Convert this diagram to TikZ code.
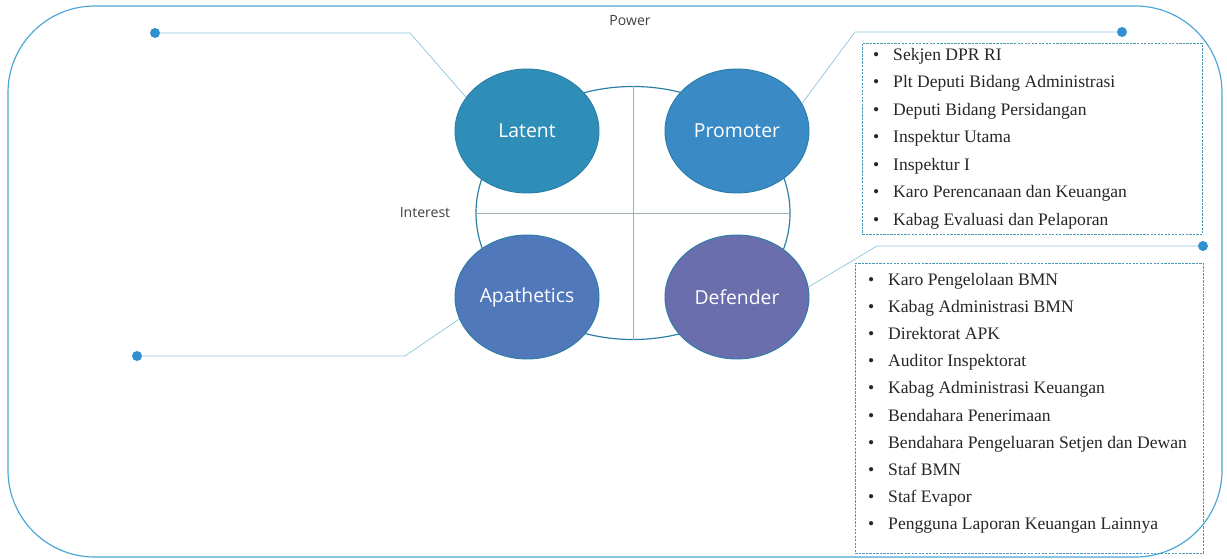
\documentclass[tikz,border=0pt]{standalone}
\usepackage{fontspec}
\setmainfont{Liberation Serif}
\newfontfamily\quadfont{Open Sans}
\usetikzlibrary{shapes.geometric}

\definecolor{framec}{HTML}{4BA6D6}
\definecolor{linkc}{HTML}{8CC6DE}
\definecolor{pinc}{HTML}{2F8FCF}
\definecolor{boxc}{HTML}{4A98B8}
\definecolor{ringc}{HTML}{2B7EA6}
\definecolor{axisc}{HTML}{A0AEB8}
\definecolor{latentc}{HTML}{2F8EB8}
\definecolor{promoterc}{HTML}{3A8BC5}
\definecolor{apatheticsc}{HTML}{5078BA}
\definecolor{defenderc}{HTML}{6A6EAC}

\begin{document}
\begin{tikzpicture} [x = 0.03cm, y = -0.03cm,
  quad/.style = {ellipse, draw = ringc, line width = 0.8pt, minimum width = 4.32cm, minimum height = 3.72cm, inner sep = 0pt, text = white, font = \quadfont\fontsize{16.5}{18}\selectfont},
  link/.style = {draw = linkc, line width = 0.6pt},
  pin/.style = {circle, fill = pinc, minimum size = 0.3cm, inner sep = 0pt},
  listbox/.style = {draw = boxc, dash pattern = on 2pt off 1pt, line width = 0.5pt, anchor = north west, inner sep = 0pt},
  entry/.style = {anchor = base west, inner sep = 0pt, font = \fontsize{15}{18}\selectfont, text = black!85},
  axislabel/.style = {font = \quadfont\fontsize{12}{14}\selectfont, text = black!75}]

\useasboundingbox (0, 0) rectangle (1227, 559);
\draw[framec, line width = 1pt, rounded corners = 2.6cm] (8, 6) rectangle (1222, 557);

% stakeholder field
\node[ellipse, draw = ringc, line width = 1pt, minimum width = 9.42cm, minimum height = 7.59cm] (field) at (633, 213) {};
\draw[axisc, line width = 0.5pt] (field.north) -- (field.south);
\draw[axisc, line width = 0.5pt] (field.west) -- (field.east);
\node[axislabel] (power) at (630, 21) {Power};
\node[axislabel] (interest) at (425, 213) {Interest};

\node[quad, fill = latentc] (latent) at (527, 131) {Latent};
\node[quad, fill = promoterc] (promoter) at (737, 131) {Promoter};
\node[quad, fill = apatheticsc] (apathetics) at (527, 297) {Apathetics};
\node[quad, fill = defenderc] (defender) at (737, 297) {Defender};

% pins
\node[pin] (latpin) at (155, 33) {};
\node[pin] (apapin) at (137, 356) {};
\node[pin] (propin) at (1122, 32) {};
\node[pin] (defpin) at (1203, 246) {};
\draw[link] (latpin) -- (410, 33) -- (latent.151);
\draw[link] (apapin) -- (405, 356) -- (apathetics.198);
\draw[link] (propin) -- (855, 32) -- (promoter.23);
\draw[link] (defpin) -- (877, 246) -- (defender.8);

% lists
\node[listbox, minimum width = 10.2cm, minimum height = 5.73cm] (prolist) at (862, 43) {};
\foreach \who [count = \i] in {Sekjen DPR RI, Plt Deputi Bidang Administrasi, Deputi Bidang Persidangan, Inspektur Utama, Inspektur I, Karo Perencanaan dan Keuangan, Kabag Evaluasi dan Pelaporan}
  \node[entry] (pro\i) at (873, 27.5*\i + 32.5) {\makebox[0.6cm][l]{\textbullet}\who};

\node[listbox, minimum width = 10.44cm, minimum height = 8.7cm] (deflist) at (855, 263) {};
\foreach \who [count = \i] in {Karo Pengelolaan BMN, Kabag Administrasi BMN, Direktorat APK, Auditor Inspektorat, Kabag Administrasi Keuangan, Bendahara Penerimaan, Bendahara Pengeluaran Setjen dan Dewan, Staf BMN, Staf Evapor, Pengguna Laporan Keuangan Lainnya}
  \node[entry] (def\i) at (868, 27.2*\i + 257.8) {\makebox[0.6cm][l]{\textbullet}\who};
\end{tikzpicture}
\end{document}
